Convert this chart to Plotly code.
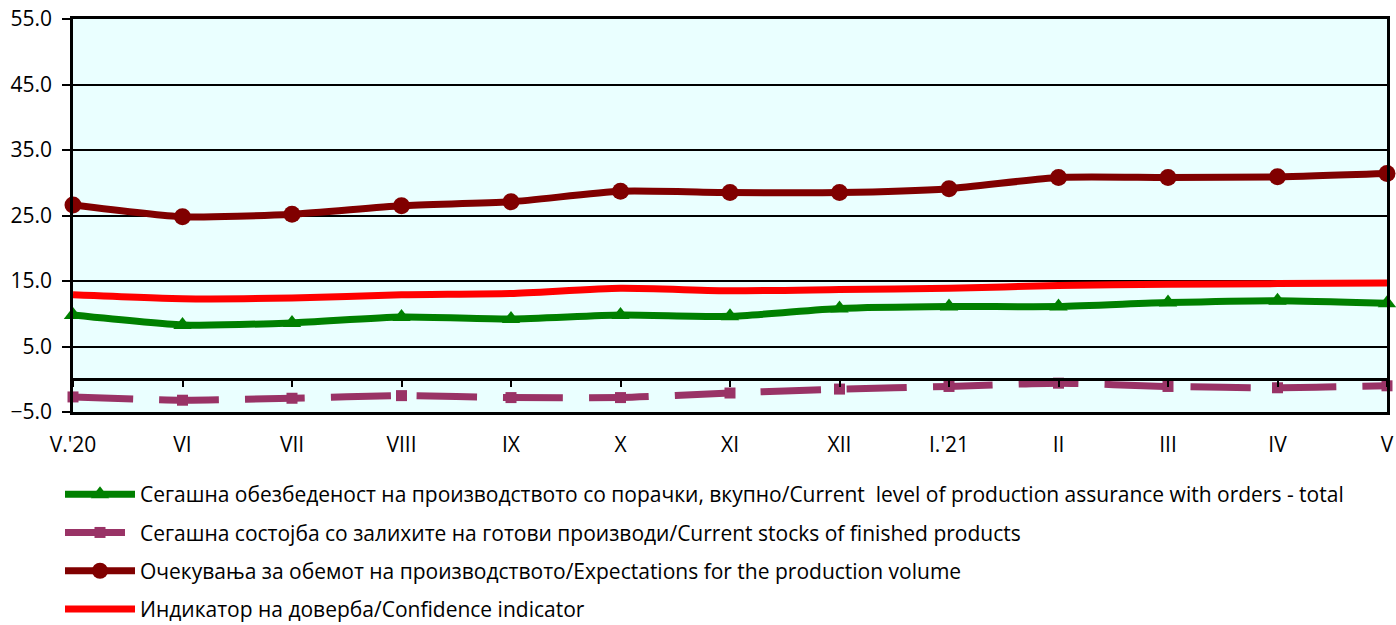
import plotly.graph_objects as go

categories = ["V.'20", "VI", "VII", "VIII", "IX", "X", "XI", "XII", "I.'21", "II", "III", "IV", "V"]
orders = [9.8, 8.3, 8.6, 9.5, 9.2, 9.8, 9.6, 10.8, 11.1, 11.1, 11.7, 12.0, 11.6]
stocks = [-2.7, -3.2, -2.9, -2.5, -2.8, -2.8, -2.1, -1.5, -1.1, -0.6, -1.1, -1.3, -1.0]
expectations = [26.6, 24.8, 25.2, 26.5, 27.1, 28.7, 28.5, 28.5, 29.1, 30.8, 30.8, 30.9, 31.4]
confidence = [12.9, 12.3, 12.4, 12.9, 13.1, 13.9, 13.5, 13.7, 13.9, 14.3, 14.5, 14.6, 14.7]
y_ticks = [-5, 5, 15, 25, 35, 45, 55]

names = [
    "Сегашна обезбеденост на производството со порачки, вкупно/Current  level of production assurance with orders - total",
    "Сегашна состојба со залихите на готови производи/Current stocks of finished products",
    "Очекувања за обемот на производството/Expectations for the production volume",
    "Индикатор на доверба/Confidence indicator",
]

x = list(range(len(categories)))
FONT = "Open Sans"
W, H = 1396, 625

fig = go.Figure()
fig.add_trace(go.Scatter(
    x=x, y=orders, name=names[0], legendgroup="a", mode="lines+markers",
    line=dict(color="#008000", width=7, shape="spline", smoothing=0.6),
    marker=dict(symbol="triangle-up", size=16, color="#008000"), cliponaxis=False))
fig.add_trace(go.Scatter(
    x=x, y=stocks, name=names[1], legendgroup="b", mode="lines+markers",
    line=dict(color="#993366", width=7, dash="60px,26px", shape="spline", smoothing=0.6),
    marker=dict(symbol="square", size=11, color="#993366"), cliponaxis=False))
fig.add_trace(go.Scatter(
    x=x, y=expectations, name=names[2], legendgroup="c", mode="lines+markers",
    line=dict(color="#800000", width=7, shape="spline", smoothing=0.6),
    marker=dict(symbol="circle", size=17, color="#800000"), cliponaxis=False))
fig.add_trace(go.Scatter(
    x=x, y=confidence, name=names[3], legendgroup="d", mode="lines",
    line=dict(color="#FF0000", width=7, shape="spline", smoothing=0.6), cliponaxis=False))

# secondary x axis drawn along y=0 with tick marks
fig.add_trace(go.Scatter(x=[0], y=[0], xaxis="x2", showlegend=False, mode="markers",
                         marker=dict(opacity=0), hoverinfo="skip"))

fig.update_layout(
    width=W, height=H,
    margin=dict(l=73, r=9, t=19, b=213, autoexpand=False),
    paper_bgcolor="white", plot_bgcolor="#EAFFFF",
    font=dict(family=FONT, size=21, color="black"),
    showlegend=True,
    legend=dict(xref="container", yref="container", x=60 / W, y=1 - 474 / H,
                xanchor="left", yanchor="top",
                font=dict(family=FONT, size=21, color="black"),
                tracegroupgap=8, itemwidth=70, bgcolor="rgba(0,0,0,0)"),
    xaxis=dict(range=[0, 12], tickvals=x, ticktext=categories, showgrid=False,
               zeroline=False, showline=True, linecolor="black", linewidth=2.5,
               mirror=True, ticks="", ticklabelstandoff=12, automargin=False,
               ticklabeloverflow="allow",
               tickfont=dict(family=FONT, size=21, color="black")),
    xaxis2=dict(range=[0, 12], overlaying="x", anchor="free", position=5 / 60,
                tickvals=x, showticklabels=False, showgrid=False, zeroline=False,
                showline=True, linecolor="black", linewidth=2.5, automargin=False,
                ticks="outside", ticklen=6, tickwidth=2, tickcolor="black"),
    yaxis=dict(range=[-5, 55], tickvals=y_ticks, tickformat=".1f",
               showgrid=True, gridcolor="black", gridwidth=2, zeroline=False,
               showline=True, linecolor="black", linewidth=2.5, mirror=True,
               ticks="outside", ticklen=8, tickwidth=2, tickcolor="black",
               ticklabelstandoff=6, automargin=False, ticklabeloverflow="allow",
               tickfont=dict(family=FONT, size=21, color="black")),
)

fig.write_html("out.html", config={"displayModeBar": False},
               post_script="document.body.style.margin='0px';document.body.style.overflow='hidden';")
